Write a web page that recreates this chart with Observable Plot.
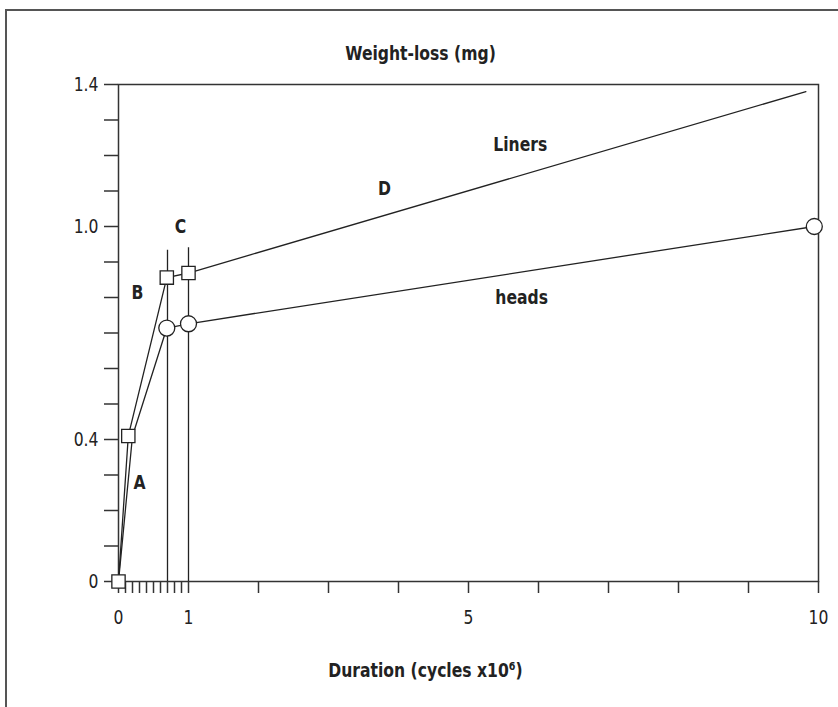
<!DOCTYPE html>
<html>
<head>
<meta charset="utf-8">
<script src="https://cdn.jsdelivr.net/npm/d3@7"></script>
<script src="https://cdn.jsdelivr.net/npm/@observablehq/plot@0.6"></script>
<style>
  html, body { margin: 0; padding: 0; background: #fff; overflow: hidden; }
  #wrap { position: relative; width: 838px; height: 707px; }
  #outer { position: absolute; left: 5px; top: 9px; width: 2000px; height: 2000px;
           border-top: 2px solid #555; border-left: 2px solid #555; box-sizing: border-box; }
  #chart { position: absolute; left: 0; top: 0; }
</style>
</head>
<body>
<div id="wrap"><div id="outer"></div><div id="chart"></div></div>
<script>
// Liners (squares)
const linersX = [0, 0.14, 0.69, 1.0, 9.82];
const linersY = [0, 0.41, 0.856, 0.869, 1.38];
const linersMarked = [true, true, true, true, false];
// Heads (circles)
const headsX = [0, 0.2, 0.69, 1.0, 9.94];
const headsY = [0, 0.41, 0.714, 0.726, 1.0];
const headsMarked = [false, false, true, true, true];
// Vertical guide lines
const guideX = [0.7, 1.0];
const guideTop = [0.933, 0.94];
// Tick positions and labels
const xTicks = [0, 0.1, 0.2, 0.3, 0.4, 0.5, 0.6, 0.7, 0.8, 0.9, 1, 2, 3, 4, 5, 6, 7, 8, 9, 10];
const xTickLabels = [0, 1, 5, 10];
const yTicks = [0, 0.1, 0.2, 0.3, 0.4, 0.5, 0.6, 0.7, 0.8, 0.9, 1.0, 1.1, 1.2, 1.3, 1.4];
const yTickLabels = {"0": "0", "0.4": "0.4", "1": "1.0", "1.4": "1.4"};
// Annotations
const noteText = ["A", "B", "C", "D", "Liners", "heads"];
const noteX = [0.3, 0.27, 0.886, 3.8, 5.74, 5.76];
const noteY = [0.28, 0.815, 1.0, 1.106, 1.23, 0.80];
const titleText = "Weight-loss (mg)";
const xLabelText = "Duration (cycles x10\u2076)";

const liners = linersX.map((x, i) => ({x, y: linersY[i], m: linersMarked[i]}));
const heads = headsX.map((x, i) => ({x, y: headsY[i], m: headsMarked[i]}));
const guides = guideX.map((x, i) => ({x, top: guideTop[i]}));
const notes = noteText.map((t, i) => ({t, x: noteX[i], y: noteY[i]}));

const FONT = "'DejaVu Sans', sans-serif";
const ink = "#222";

const chart = Plot.plot({
  width: 838,
  height: 707,
  marginLeft: 118,
  marginRight: 20,
  marginTop: 84,
  marginBottom: 126,
  style: {fontFamily: FONT, fontSize: "20px", color: "#222", background: "transparent"},
  x: {domain: [0, 10]},
  y: {domain: [0, 1.4]},
  marks: [
    Plot.frame({stroke: "#333", strokeWidth: 1.5}),
    Plot.axisX(xTicks, {tickSize: 12, tickPadding: 16, strokeWidth: 1.5, stroke: "#333", fontSize: 20,
      tickFormat: d => xTickLabels.some(v => Math.abs(v - d) < 1e-9) ? String(d) : "", label: null}),
    Plot.axisY(yTicks, {tickSize: 14, tickPadding: 6, strokeWidth: 1.5, stroke: "#333", fontSize: 20,
      tickFormat: d => yTickLabels[String(Math.round(d * 10) / 10)] ?? "", label: null}),
    Plot.ruleX(guides, {x: "x", y1: 0, y2: "top", stroke: ink, strokeWidth: 1.3}),
    Plot.line(liners, {x: "x", y: "y", stroke: ink, strokeWidth: 1.3}),
    Plot.line(heads, {x: "x", y: "y", stroke: ink, strokeWidth: 1.3}),
    Plot.dot(heads.filter(d => d.m), {x: "x", y: "y", r: 8, fill: "white", stroke: ink, strokeWidth: 1.3}),
    Plot.dot(liners.filter(d => d.m), {x: "x", y: "y", symbol: "square", r: 7.5, fill: "white", stroke: ink, strokeWidth: 1.3}),
    Plot.text(notes, {x: "x", y: "y", text: "t", fontWeight: "bold", fontSize: 20, fill: ink}),
    Plot.text([titleText], {frameAnchor: "top", dx: -48, dy: -31, lineAnchor: "middle", fontWeight: "bold", fontSize: 20, fill: ink}),
    Plot.text([xLabelText], {frameAnchor: "bottom", dx: -43, dy: 89, lineAnchor: "middle", fontWeight: "bold", fontSize: 20, fill: ink})
  ]
});
document.getElementById("chart").appendChild(chart);
// Condense the type (the reference uses a condensed face)
d3.select(chart).selectAll("text").each(function () {
  const L = this.getComputedTextLength();
  if (L > 0) {
    this.setAttribute("textLength", (L * 0.78).toFixed(2));
    this.setAttribute("lengthAdjust", "spacingAndGlyphs");
  }
});
</script>
</body>
</html>
